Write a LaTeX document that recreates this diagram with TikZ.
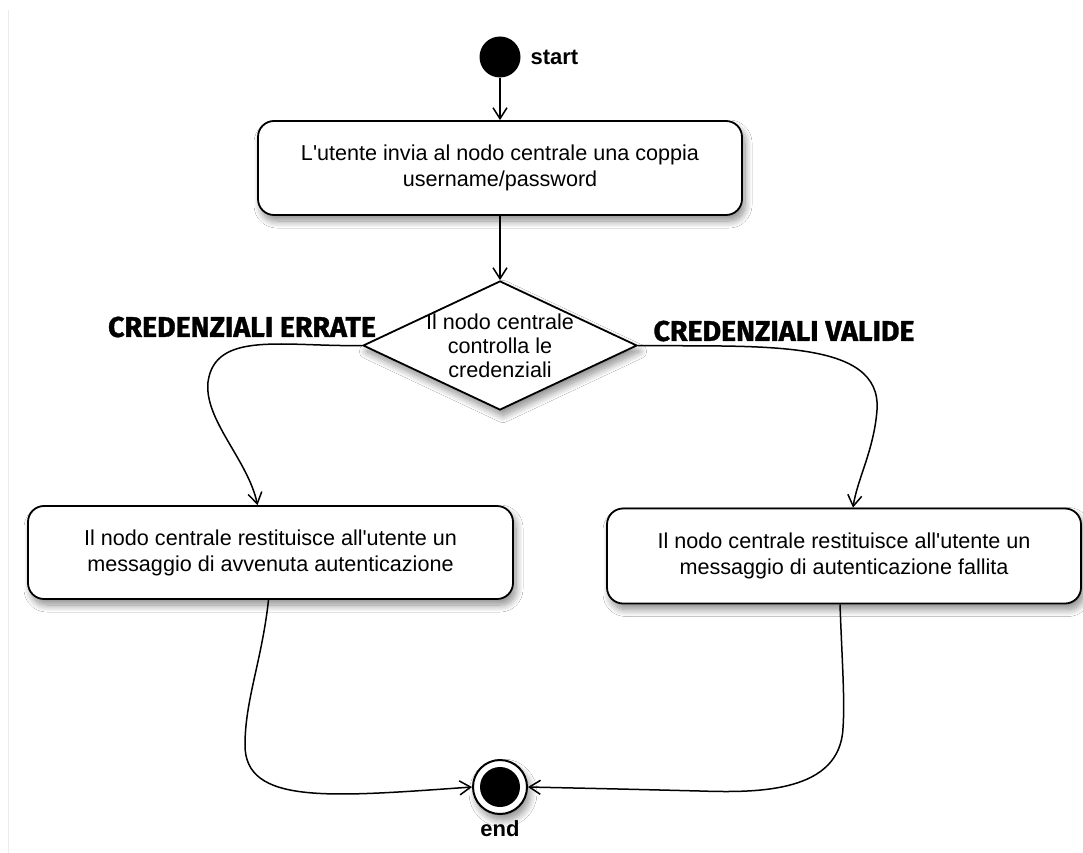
\documentclass[tikz,border=0pt]{standalone}
\usepackage{fontspec}
\setmainfont{Liberation Sans}
\newfontfamily\lblfont{Fira Sans}[BoldFeatures={FakeBold=1.2}]
\usetikzlibrary{shapes.geometric,arrows.meta,shadows.blur,calc}

\tikzset{
  softshadow/.style={blur shadow={shadow xshift=3pt, shadow yshift=-6pt,
      shadow blur steps=12, shadow blur radius=7pt, shadow opacity=45}},
  actbox/.style={draw, line width=1.8pt, rounded corners=16pt, fill=white,
      softshadow, align=center, inner sep=0pt,
      font=\fontsize{21.6}{26}\selectfont},
  decision/.style={diamond, draw, line width=1.8pt, fill=white, softshadow,
      inner sep=0pt, minimum width=274pt, minimum height=129pt},
  conn/.style={line width=1.5pt, -{Straight Barb[length=11pt,width=14pt,line width=1.5pt]}},
  guard/.style={font=\lblfont\bfseries\fontsize{28.5}{30}\selectfont},
  statelbl/.style={font=\bfseries\fontsize{22}{24}\selectfont},
}

\begin{document}
\begin{tikzpicture}[x=1pt,y=-1pt]
  \useasboundingbox (0,0) rectangle (1083,853);
  \fill[white] (0,0) rectangle (1083,853);
  \draw[black!8, line width=1pt] (8,10) -- (8,853);

  % initial state
  \node (start) [circle, fill=black, minimum size=41pt, inner sep=0pt] at (500,57) {};
  \node (startlbl) [statelbl, anchor=west] at (527,57) {start};

  % activities
  \node (send) [actbox, minimum width=484pt, minimum height=94pt] at (500,168)
    {L\textquotesingle utente invia al nodo centrale una coppia\\username/password};
  \node (check) [decision] at (500,345.5) {};
  \node (checktxt) [align=center, font=\fontsize{21.6}{24}\selectfont] at (check.center)
    {Il nodo centrale\\controlla le\\credenziali};
  \node (ok) [actbox, minimum width=485pt, minimum height=93pt] at (270.5,552.5)
    {Il nodo centrale restituisce all\textquotesingle utente un\\messaggio di avvenuta autenticazione};
  \node (ko) [actbox, minimum width=474pt, minimum height=95pt] at (844,556)
    {Il nodo centrale restituisce all\textquotesingle utente un\\messaggio di autenticazione fallita};

  % final state
  \node (end) [circle, draw, line width=2pt, fill=white, softshadow,
      minimum size=54pt, inner sep=0pt] at (500,787) {};
  \node (endcore) [circle, fill=black, minimum size=40pt, inner sep=0pt] at (end.center) {};
  \node (endlbl) [statelbl] at (500,829) {end};

  % guards
  \node (lblerr) [guard] at (242,327) {CREDENZIALI ERRATE};
  \node (lblval) [guard] at (784,331) {CREDENZIALI VALIDE};

  % flows
  \draw[conn] (start) -- (send);
  \draw[conn] (send) -- (check.north);
  \draw[conn] (check.west) .. controls (285,347) and (215,330) .. (208,382)
      .. controls (204,420) and (248,460) .. ([xshift=-13pt]ok.north);
  \draw[conn] (check.east) .. controls (760,347) and (882,338) .. (877,410)
      .. controls (874,450) and (857,480) .. ([xshift=9pt]ko.north);
  \draw[conn] ([xshift=-2pt]ok.south) .. controls (262,660) and (245,700) .. (245,745)
      .. controls (245,805) and (330,797) .. (end.west);
  \draw[conn] ([xshift=-4pt]ko.south) .. controls (842,660) and (845,700) .. (843,728)
      .. controls (840,792) and (760,793) .. (700,791)
      .. controls (620,789) .. (end.east);
\end{tikzpicture}
\end{document}
